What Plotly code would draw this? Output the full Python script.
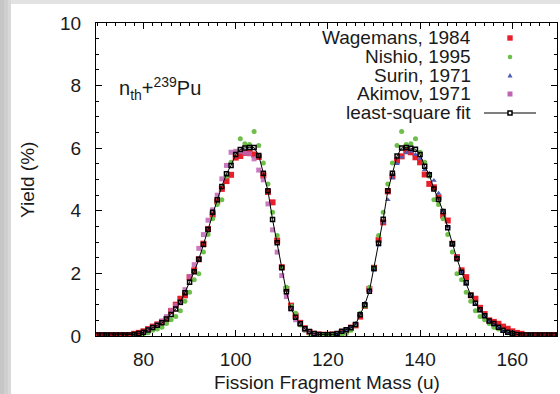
import plotly.graph_objects as go

# ---------------- data ----------------
fit_mass = list(range(70, 171))
fit_yield = [
    0.03, 0.03, 0.03, 0.03, 0.03, 0.03, 0.03, 0.03,
    0.05, 0.08, 0.12, 0.19, 0.27, 0.34, 0.42, 0.54, 0.69, 0.86, 1.08, 1.38,
    1.72, 2.05, 2.45, 2.92, 3.40, 3.95, 4.35, 4.78, 5.18, 5.45,
    5.80, 5.96, 6.01, 6.02, 6.02, 5.77, 5.20, 4.64, 3.72, 2.98,
    2.18, 1.41, 0.88, 0.60, 0.39, 0.23, 0.14, 0.08, 0.05, 0.04,
    0.04, 0.05, 0.08, 0.15, 0.20, 0.26, 0.37, 0.68, 1.00, 1.43,
    2.16, 2.96, 3.73, 4.64, 5.20, 5.75, 6.01, 6.02, 6.00, 5.97,
    5.80, 5.42, 5.15, 4.70, 4.36, 3.98, 3.46, 2.95, 2.47, 2.04,
    1.70, 1.30, 1.05, 0.84, 0.65, 0.48, 0.40, 0.28, 0.18, 0.12,
    0.08, 0.05, 0.03, 0.03, 0.03, 0.03, 0.03, 0.03, 0.03, 0.03, 0.03,
]

wagemans_mass = list(range(70, 171))
wagemans_yield = [
    0.03, 0.03, 0.03, 0.03, 0.03, 0.03, 0.03, 0.03,
    0.07, 0.10, 0.15, 0.22, 0.30, 0.37, 0.45, 0.54, 0.80, 1.00, 1.19, 1.30,
    1.88, 2.10, 2.45, 2.95, 3.42, 3.88, 4.30, 4.70, 4.95, 5.15,
    5.70, 5.75, 5.85, 5.85, 5.80, 5.72, 5.13, 4.60, 4.27, 3.05,
    2.20, 1.50, 0.97, 0.65, 0.42, 0.25, 0.13, 0.07, 0.05, 0.04,
    0.04, 0.05, 0.06, 0.12, 0.18, 0.27, 0.34, 0.62, 0.96, 1.50,
    2.18, 3.07, 3.63, 4.62, 5.10, 5.60, 5.74, 5.93, 5.87, 5.71,
    5.55, 5.16, 4.86, 4.75, 4.43, 3.85, 3.69, 2.95, 2.52, 2.10,
    1.88, 1.30, 1.19, 0.90, 0.70, 0.50, 0.45, 0.39, 0.30, 0.23,
    0.15, 0.10, 0.07, 0.03, 0.03, 0.03, 0.03, 0.03, 0.03, 0.03, 0.03,
]

nishio_mass = list(range(80, 161))
nishio_yield = [
    0.06, 0.10, 0.18, 0.22, 0.28, 0.40, 0.52, 0.62, 0.81, 1.11,
    1.40, 1.80, 1.99, 2.68, 3.24, 3.75, 4.20, 4.35, 5.10, 5.55,
    5.87, 6.30, 6.14, 6.12, 6.53, 6.09, 5.53, 4.86, 3.95, 3.21,
    2.18, 1.56, 0.95, 0.73, 0.35, 0.18, 0.08, 0.05, 0.04, 0.04,
    0.04, 0.04, 0.04, 0.05, 0.08, 0.18, 0.35, 0.73, 0.95, 1.56,
    2.18, 3.21, 3.95, 4.86, 5.53, 6.09, 6.53, 6.12, 6.14, 6.30,
    5.87, 5.55, 5.10, 4.35, 4.20, 3.75, 3.24, 2.68, 1.99, 1.80,
    1.40, 1.11, 0.81, 0.62, 0.52, 0.40, 0.28, 0.22, 0.18, 0.10,
    0.06,
]

surin_mass = list(range(122, 161))
surin_yield = [
    0.06, 0.12, 0.20, 0.28, 0.40, 0.70, 1.05, 1.45,
    2.10, 2.90, 3.63, 4.35, 5.05, 5.50, 5.71, 5.85, 5.90, 5.80,
    5.67, 5.31, 5.20, 4.97, 4.56, 4.00, 3.50, 2.90, 2.54, 2.05,
    1.65, 1.30, 1.00, 0.80, 0.62, 0.47, 0.35, 0.25, 0.15, 0.10,
    0.06,
]

akimov_mass = list(range(80, 118))
akimov_yield = [
    0.12, 0.20, 0.28, 0.38, 0.48, 0.62, 0.82, 0.98, 1.06, 1.48,
    1.90, 2.28, 2.80, 3.24, 3.70, 4.03, 4.50, 5.02, 5.45, 5.87,
    5.90, 5.90, 5.85, 5.82, 5.66, 5.30, 4.99, 4.22, 3.39, 2.68,
    1.93, 1.26, 0.87, 0.52, 0.40, 0.20, 0.12, 0.07,
]

series_names = ["Wagemans, 1984", "Nishio, 1995", "Surin, 1971", "Akimov, 1971", "least-square fit"]
x_ticks = [80, 100, 120, 140, 160]
y_ticks = [0, 2, 4, 6, 8, 10]

# ---------------- style ----------------
RED = "#e8202c"
GREEN = "#6dbe4b"
BLUE = "#4a5cb4"
PURPLE = "#c064b4"
FONT = "Liberation Sans, Arial, Helvetica, sans-serif"
TXT = "#1a1a1a"

W, H = 560, 394
ML, MR, MT, MB = 96, 3, 23, 58
PW, PH = W - ML - MR, H - MT - MB


def px(x):
    return (x - ML) / PW


def py(y):
    return (H - MB - y) / PH


fig = go.Figure()
fig.add_trace(go.Scatter(x=wagemans_mass, y=wagemans_yield, mode="markers", name=series_names[0],
                         marker=dict(symbol="square", size=6, color=RED)))
fig.add_trace(go.Scatter(x=nishio_mass, y=nishio_yield, mode="markers", name=series_names[1],
                         marker=dict(symbol="circle", size=5, color=GREEN)))
fig.add_trace(go.Scatter(x=surin_mass, y=surin_yield, mode="markers", name=series_names[2],
                         marker=dict(symbol="triangle-up", size=5, color=BLUE)))
fig.add_trace(go.Scatter(x=akimov_mass, y=akimov_yield, mode="markers", name=series_names[3],
                         marker=dict(symbol="square", size=5, color=PURPLE, opacity=0.85)))
fig.add_trace(go.Scatter(x=fit_mass, y=fit_yield, mode="lines+markers", name=series_names[4],
                         line=dict(color="black", width=1),
                         marker=dict(symbol="square-open", size=4, color="black", line=dict(width=1.5))))

shapes = []
# page background: gray border with white panel
for x0, x1, c in [(0, 4, "#c6c6c6"), (4, 8, "#cfcfcf"), (8, 11, "#d9d9d9")]:
    shapes.append(dict(type="rect", xref="paper", yref="paper", x0=px(x0), x1=px(x1), y0=py(H), y1=py(0),
                       fillcolor=c, line=dict(width=0), layer="below"))
shapes.append(dict(type="rect", xref="paper", yref="paper", x0=px(11), x1=px(W), y0=py(0), y1=py(4),
                   fillcolor="#e2e2e2", line=dict(width=0), layer="below"))
shapes.append(dict(type="rect", xref="paper", yref="paper", x0=px(11), x1=px(W), y0=py(H), y1=py(4),
                   fillcolor="white", line=dict(width=0), layer="below"))

# manual legend (text right-aligned, key on the right)
rows = [38, 57, 75.5, 94, 113]
kx = 510
annotations = []
for name, ry in zip(series_names, rows):
    annotations.append(dict(text=name, x=px(473), y=py(ry), xref="paper", yref="paper",
                            xanchor="right", yanchor="middle", showarrow=False,
                            font=dict(size=19, family=FONT, color=TXT)))
# keys
s = 2.7
shapes.append(dict(type="rect", xref="paper", yref="paper", x0=px(kx - s), x1=px(kx + s),
                   y0=py(rows[0] + s), y1=py(rows[0] - s), fillcolor=RED, line=dict(width=0)))
r = 2.3
shapes.append(dict(type="circle", xref="paper", yref="paper", x0=px(kx - r), x1=px(kx + r),
                   y0=py(rows[1] + r), y1=py(rows[1] - r), fillcolor=GREEN, line=dict(width=0)))
ty = rows[2]
shapes.append(dict(type="path", xref="paper", yref="paper",
                   path=f"M {px(kx-2.5)} {py(ty+2)} L {px(kx+2.5)} {py(ty+2)} L {px(kx)} {py(ty-2.5)} Z",
                   fillcolor=BLUE, line=dict(width=0)))
s2 = 2.5
shapes.append(dict(type="rect", xref="paper", yref="paper", x0=px(kx - s2), x1=px(kx + s2),
                   y0=py(rows[3] + s2), y1=py(rows[3] - s2), fillcolor=PURPLE, line=dict(width=0)))
shapes.append(dict(type="line", xref="paper", yref="paper", x0=px(484), x1=px(536),
                   y0=py(rows[4]), y1=py(rows[4]), line=dict(color="black", width=1)))
shapes.append(dict(type="rect", xref="paper", yref="paper", x0=px(kx - 2), x1=px(kx + 2),
                   y0=py(rows[4] + 2), y1=py(rows[4] - 2), fillcolor="white",
                   line=dict(color="black", width=1.5)))

# label and axis titles
annotations.append(dict(text="n<sub>th</sub>+<sup>239</sup>Pu", x=px(117), y=py(88), xref="paper", yref="paper",
                        xanchor="left", yanchor="middle", showarrow=False,
                        font=dict(size=20, family=FONT, color=TXT)))
annotations.append(dict(text="Fission Fragment Mass (u)", x=px(327), y=py(382), xref="paper", yref="paper",
                        xanchor="center", yanchor="middle", showarrow=False,
                        font=dict(size=19, family=FONT, color=TXT)))
annotations.append(dict(text="Yield (%)", x=px(27), y=py(180), xref="paper", yref="paper",
                        xanchor="center", yanchor="middle", showarrow=False, textangle=-90,
                        font=dict(size=19, family=FONT, color=TXT)))

fig.update_layout(
    width=W, height=H,
    margin=dict(l=ML, r=MR, t=MT, b=MB, pad=0),
    paper_bgcolor="#e2e2e2",
    plot_bgcolor="white",
    showlegend=False,
    shapes=shapes,
    annotations=annotations,
    font=dict(family=FONT, size=19, color=TXT),
)
fig.update_xaxes(
    range=[69.7, 169.7], tickvals=x_ticks, ticks="inside", ticklen=6, tickcolor="black",
    showline=True, linecolor="black", linewidth=1, mirror="ticks", showgrid=False, zeroline=False,
    minor=dict(dtick=2, tick0=0, ticks="inside", ticklen=3, tickcolor="black", showgrid=False),
    tickfont=dict(size=19, family=FONT, color=TXT), ticklabelstandoff=6,
)
fig.update_yaxes(
    range=[0, 10], tickvals=y_ticks, ticks="inside", ticklen=6, tickcolor="black",
    showline=True, linecolor="black", linewidth=1, mirror="ticks", showgrid=False, zeroline=False,
    minor=dict(dtick=0.5, tick0=0, ticks="inside", ticklen=3, tickcolor="black", showgrid=False),
    tickfont=dict(size=19, family=FONT, color=TXT), ticklabelstandoff=10,
)

fig.write_html("out.html", config={"displayModeBar": False})

# remove default page margin so the figure sits at the window's top-left corner
with open("out.html", "r", encoding="utf-8") as f:
    html = f.read()
html = html.replace("<body>", '<body style="margin:0;padding:0;overflow:hidden">', 1)
with open("out.html", "w", encoding="utf-8") as f:
    f.write(html)
